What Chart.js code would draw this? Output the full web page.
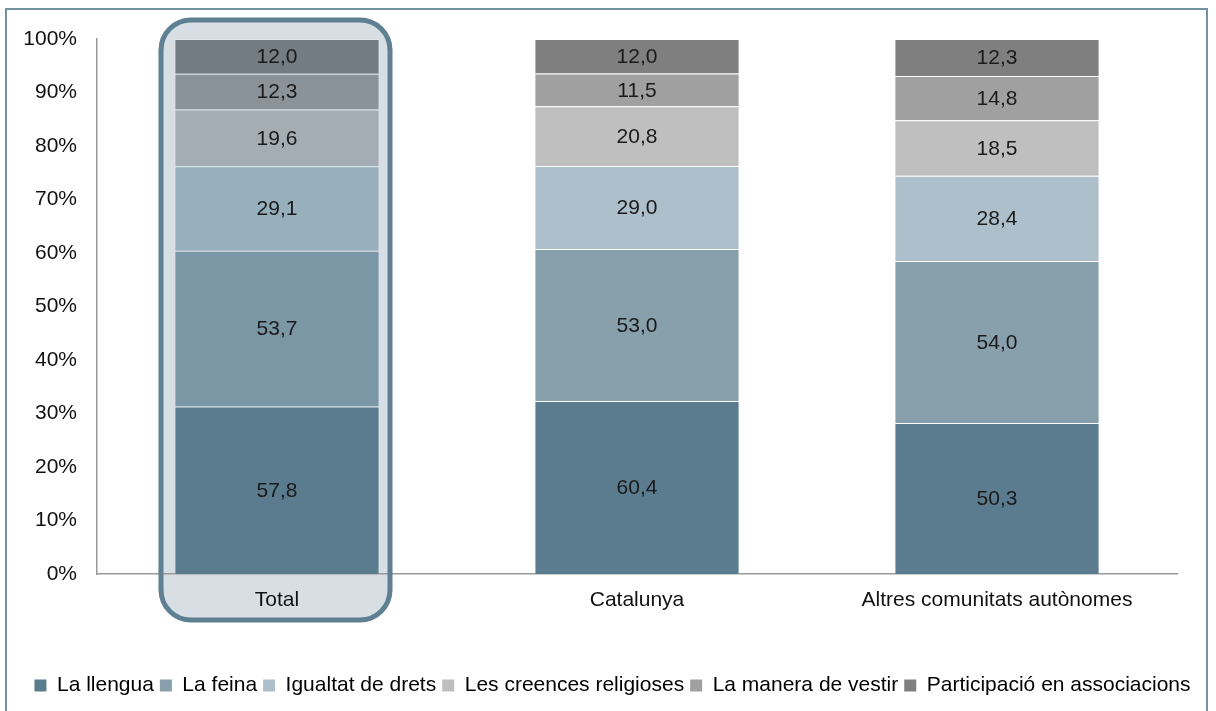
<!DOCTYPE html>
<html>
<head>
<meta charset="utf-8">
<script src="https://cdn.jsdelivr.net/npm/chart.js"></script>
<style>
  body { margin: 0; background: #fff; }
  #wrap { width: 1216px; height: 711px; position: relative; }
</style>
</head>
<body>
<div id="wrap"><canvas id="myChart"></canvas></div>
<script>
const categories = ['Total', 'Catalunya', 'Altres comunitats autònomes'];
const llengua = [57.8, 60.4, 50.3];
const feina = [53.7, 53.0, 54.0];
const igualtat = [29.1, 29.0, 28.4];
const creences = [19.6, 20.8, 18.5];
const vestir = [12.3, 11.5, 14.8];
const participacio = [12.0, 12.0, 12.3];
const yTicks = [0, 10, 20, 30, 40, 50, 60, 70, 80, 90, 100];

const FONT = '"Liberation Sans", Arial, sans-serif';

const series = [
  { label: 'La llengua', data: llengua, color: '#5b7c8f', total: '#5b7b8e' },
  { label: 'La feina', data: feina, color: '#889fac', total: '#7b97a6' },
  { label: 'Igualtat de drets', data: igualtat, color: '#adbfca', total: '#98afbd' },
  { label: 'Les creences religioses', data: creences, color: '#bfbfbf', total: '#a5adb4' },
  { label: 'La manera de vestir', data: vestir, color: '#a0a0a0', total: '#8a939a' },
  { label: 'Participació en associacions', data: participacio, color: '#7f7f7f', total: '#737b83' }
];

// 100% stacked: each category scaled to its own sum
const sums = categories.map((c, i) => series.reduce((s, d) => s + d.data[i], 0));

const ctx = document.getElementById('myChart');

function boxRect(chart) {
  const x = chart.scales.x, y = chart.scales.y;
  const cx = x.getPixelForValue(0);
  return { l: cx - 116, r: cx + 113, t: y.top - 19, b: y.bottom + 46 };
}

const frame = {
  id: 'frame',
  afterLayout(chart) {
    // legend sits a bit right of the plot centre in the original
    chart.legend.left += 24;
    chart.legend.right += 24;
  },
  beforeDraw(chart) {
    const c = chart.ctx;
    const k = boxRect(chart);
    c.save();
    c.strokeStyle = '#7391a3';
    c.lineWidth = 2;
    c.strokeRect(6, 9, 1201, 720);
    // highlight box behind Total
    c.beginPath();
    c.roundRect(k.l, k.t, k.r - k.l, k.b - k.t, 30);
    c.fillStyle = '#d7dfe5';
    c.fill();
    c.restore();
  },
  afterDraw(chart) {
    const c = chart.ctx;
    const k = boxRect(chart);
    c.save();
    c.beginPath();
    c.roundRect(k.l, k.t, k.r - k.l, k.b - k.t, 30);
    c.strokeStyle = '#5f7f93';
    c.lineWidth = 5;
    c.stroke();
    c.restore();
  },
  afterDatasetsDraw(chart) {
    const c = chart.ctx;
    c.save();
    c.font = '21px ' + FONT;
    c.fillStyle = '#1a1a1a';
    c.textAlign = 'center';
    c.textBaseline = 'middle';
    chart.data.datasets.forEach((ds, di) => {
      chart.getDatasetMeta(di).data.forEach((el, i) => {
        const v = ds.raw[i].toFixed(1).replace('.', ',');
        c.fillText(v, el.x, (el.y + el.base) / 2 + 1);
      });
    });
    c.restore();
  }
};

new Chart(ctx, {
  type: 'bar',
  data: {
    labels: categories,
    datasets: series.map(s => ({
      label: s.label,
      raw: s.data,
      data: s.data.map((v, i) => v / sums[i] * 100),
      backgroundColor: s.data.map((v, i) => i === 0 ? s.total : s.color),
      borderColor: 'rgba(255,255,255,0.2)',
      borderWidth: 1,
      barPercentage: 0.57,
      categoryPercentage: 1
    }))
  },
  options: {
    responsive: true,
    maintainAspectRatio: false,
    animation: false,
    events: [],
    layout: { padding: { top: 39, right: 39, bottom: 5, left: 0 } },
    plugins: {
      tooltip: { enabled: false },
      legend: {
        position: 'bottom',
        labels: {
          boxWidth: 12,
          boxHeight: 12,
          padding: 6,
          color: '#111',
          font: { family: FONT, size: 21 },
          generateLabels(chart) {
            return series.map((s, i) => ({
              text: s.label,
              fillStyle: s.color,
              strokeStyle: s.color,
              lineWidth: 0,
              datasetIndex: i
            }));
          }
        }
      }
    },
    scales: {
      x: {
        stacked: true,
        grid: { display: false, drawTicks: false },
        border: { color: '#9a9a9a', width: 1.5 },
        ticks: { color: '#111', font: { family: FONT, size: 21 }, padding: 14 },
        afterFit(scale) { scale.height = 95; }
      },
      y: {
        stacked: true,
        min: 0,
        max: 100,
        grid: { display: false, drawTicks: false },
        border: { color: '#9a9a9a', width: 1.5 },
        afterBuildTicks(scale) { scale.ticks = yTicks.map(v => ({ value: v })); },
        ticks: {
          color: '#111',
          font: { family: FONT, size: 21 },
          padding: 20,
          callback: v => v + '%'
        },
        afterFit(scale) { scale.width = 97; }
      }
    }
  },
  plugins: [frame]
});
</script>
</body>
</html>
